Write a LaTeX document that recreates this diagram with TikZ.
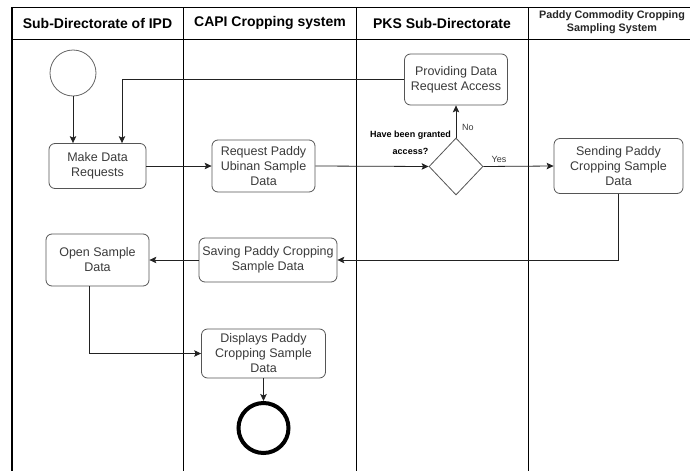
\documentclass[tikz,border=0pt]{standalone}
\usepackage{fontspec}
\setmainfont{Liberation Sans}
\usetikzlibrary{shapes.geometric,arrows.meta,calc}

\definecolor{txt}{HTML}{3A3A3A}
\definecolor{edge}{HTML}{555555}
\definecolor{wire}{HTML}{222222}

\tikzset{
  lane/.style={draw=black, line width=0.9pt},
  head/.style={font=\bfseries\fontsize{14}{16}\selectfont, text=black, align=center},
  taskbox/.style={draw=edge, line width=0.8pt, rounded corners=6pt, align=center,
    text=txt, font=\fontsize{12.5}{15}\selectfont, inner sep=1pt},
  gate/.style={draw=edge, line width=0.8pt, diamond, minimum width=54pt,
    minimum height=57pt, inner sep=0pt, aspect=0.95},
  startev/.style={draw=edge!90, line width=0.8pt, circle, minimum size=46pt, inner sep=0pt},
  endev/.style={draw=black, line width=4pt, circle, minimum size=50pt, inner sep=0pt},
  flow/.style={draw=wire, line width=0.8pt, -{Stealth[length=7pt,width=6.5pt,inset=1.5pt]}},
  tag/.style={text=txt, font=\fontsize{9}{11}\selectfont, inner sep=0pt},
}

\begin{document}
\begin{tikzpicture}[x=1pt, y=-1pt]
  \useasboundingbox (0,0) rectangle (690,471);

  % swimlane grid
  \draw[lane] (12,7) -- (690,7);
  \draw[lane] (12,39) -- (690,39);
  \draw[lane, line width=1.1pt] (12,7) -- (12,471);
  \draw[lane] (183.5,7) -- (183.5,471);
  \draw[lane] (356,7) -- (356,471);
  \draw[lane] (528,7) -- (528,471);

  % lane headers
  \node[head] (h1) at (97.5,23) {Sub-Directorate of IPD};
  \node[head] (h2) at (270,23) {CAPI Cropping system};
  \node[head] (h3) at (442,23) {PKS Sub-Directorate};
  \node[head, font=\bfseries\fontsize{10.8}{13}\selectfont, text=black!85] (h4) at (612,22)
    {Paddy Commodity Cropping\\Sampling System};

  % events and tasks
  \node[startev] (start) at (73,73) {};
  \node[taskbox, minimum width=97pt, minimum height=45pt] (make) at (97.5,166) {Make Data\\Requests};
  \node[taskbox, minimum width=103pt, minimum height=52pt] (req) at (263.5,166) {Request Paddy\\Ubinan Sample\\Data};
  \node[taskbox, minimum width=103pt, minimum height=51pt] (prov) at (456,79.5) {Providing Data\\Request Access};
  \node[gate] (dia) at (456,166.5) {};
  \node[taskbox, minimum width=129pt, minimum height=55pt] (send) at (618.5,166) {Sending Paddy\\Cropping Sample\\Data};
  \node[taskbox, minimum width=138pt, minimum height=44pt] (save) at (268,260) {Saving Paddy Cropping\\Sample Data};
  \node[taskbox, minimum width=103pt, minimum height=52pt] (open) at (97.5,260) {Open Sample\\Data};
  \node[taskbox, minimum width=124pt, minimum height=49pt] (disp) at (263.5,353.5) {Displays Paddy\\Cropping Sample\\Data};
  \node[endev] (end) at (263.5,428) {};

  % gateway labels
  \node[tag, font=\bfseries\fontsize{9}{17}\selectfont, text=black, align=center] (ask) at (410.5,142.5)
    {Have been granted\\access?};
  \node[tag, anchor=west] (no) at (462,127) {No};
  \node[tag] (yes) at (499,159) {Yes};

  % sequence flows
  \draw[flow] (start.south) -- (start.south |- make.north);
  \draw[flow] (prov.west) -| ([xshift=24.5pt]make.north);
  \draw[flow] (make.east) -- (req.west);
  \draw[flow] (req.east) -- (dia.west);
  \draw[flow] (dia.north) -- (prov.south);
  \draw[flow] (dia.east) -- (send.west);
  \draw[flow] (send.south) |- (save.east);
  \draw[flow] (save.west) -- (open.east);
  \draw[flow] ([xshift=-8.5pt]open.south) |- (disp.west);
  \draw[flow] (disp.south) -- (end.north);
\end{tikzpicture}
\end{document}
